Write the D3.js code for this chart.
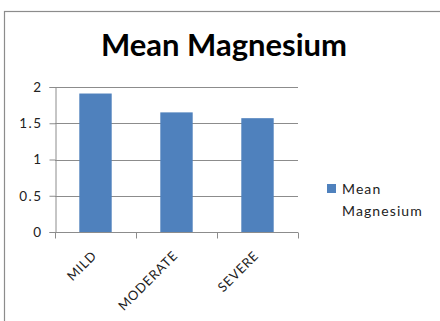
<!DOCTYPE html>
<html>
<head>
<meta charset="utf-8">
<script src="https://cdn.jsdelivr.net/npm/d3@7"></script>
<style>
  html, body { margin: 0; padding: 0; background: #fff; }
  svg { display: block; }
  text { font-family: Lato, "Open Sans", sans-serif; }
</style>
</head>
<body>
<script>
// Mean magnesium by severity group
const categories = ["MILD", "MODERATE", "SEVERE"];
const meanMagnesium = [1.91, 1.65, 1.57];
const yTicks = [0, 0.5, 1, 1.5, 2];
const seriesName = "Mean Magnesium";
const chartTitle = "Mean Magnesium";

const W = 440, H = 321;
const margin = { left: 55, right: 142, top: 87, bottom: 89 };
const color = "#4F81BD";
const axisColor = "#8c8c8c";
const labelColor = "#222";

const svg = d3.select("body").append("svg")
  .attr("width", W).attr("height", H);

// chart frame (only left and top edges fall inside the view)
svg.append("rect")
  .attr("x", 4.5).attr("y", 11.5)
  .attr("width", W + 20).attr("height", H + 20)
  .attr("fill", "#fff").attr("stroke", axisColor).attr("stroke-width", 1.2);

const x = d3.scaleBand()
  .domain(categories)
  .range([margin.left, W - margin.right])
  .paddingInner(0.6).paddingOuter(0.3);

const xOuter = d3.scaleBand()
  .domain(categories)
  .range([margin.left, W - margin.right]);

const y = d3.scaleLinear()
  .domain([0, 2])
  .range([H - margin.bottom, margin.top]);

// title
svg.append("text")
  .attr("x", 224).attr("y", 56)
  .attr("text-anchor", "middle")
  .attr("font-size", 31).attr("font-weight", "bold")
  .attr("fill", "#000")
  .text(chartTitle);

// horizontal gridlines
svg.append("g")
  .selectAll("line")
  .data(yTicks.filter(d => d > 0))
  .join("line")
  .attr("x1", margin.left).attr("x2", W - margin.right)
  .attr("y1", d => Math.round(y(d)) + 0.5).attr("y2", d => Math.round(y(d)) + 0.5)
  .attr("stroke", axisColor);

// bars
svg.append("g")
  .selectAll("rect")
  .data(categories.map((c, i) => ({ c, v: meanMagnesium[i] })))
  .join("rect")
  .attr("x", d => x(d.c))
  .attr("width", x.bandwidth())
  .attr("y", d => y(d.v))
  .attr("height", d => y(0) - y(d.v))
  .attr("fill", color);

// y axis
const yAxis = svg.append("g")
  .attr("transform", `translate(${margin.left + 0.5},0)`)
  .call(d3.axisLeft(y).tickValues(yTicks).tickFormat(d3.format("~g")).tickSize(6).tickPadding(7));
yAxis.select(".domain").attr("stroke", axisColor);
yAxis.selectAll(".tick line").attr("stroke", axisColor);
yAxis.selectAll(".tick text")
  .attr("font-size", 13.5).attr("fill", labelColor)
  .attr("letter-spacing", 1.5)
  .attr("font-family", "Lato, sans-serif");

// x axis with ticks on category boundaries
const xAxisG = svg.append("g")
  .attr("transform", `translate(0,${Math.round(y(0)) + 0.5})`);
xAxisG.append("line")
  .attr("x1", margin.left).attr("x2", W - margin.right)
  .attr("stroke", axisColor);
const bounds = categories.map(c => xOuter(c)).concat([W - margin.right]);
xAxisG.selectAll("line.tick")
  .data(bounds)
  .join("line")
  .attr("class", "tick")
  .attr("x1", d => Math.round(d) + 0.5).attr("x2", d => Math.round(d) + 0.5)
  .attr("y1", 0).attr("y2", 6)
  .attr("stroke", axisColor);
xAxisG.selectAll("text")
  .data(categories)
  .join("text")
  .attr("transform", d => `translate(${xOuter(d) + xOuter.bandwidth() / 2 + 2},${24}) rotate(-45)`)
  .attr("text-anchor", "end")
  .attr("font-size", 13)
  .attr("letter-spacing", 0.8)
  .attr("fill", labelColor)
  .text(d => d);

// legend
const lg = svg.append("g");
lg.append("rect")
  .attr("x", 327).attr("y", 184).attr("width", 9).attr("height", 9)
  .attr("fill", color);
lg.append("text")
  .attr("x", 342).attr("y", 194)
  .attr("font-size", 14).attr("fill", labelColor)
  .attr("letter-spacing", 1.1)
  .selectAll("tspan")
  .data(seriesName.split(" "))
  .join("tspan")
  .attr("x", 342)
  .attr("dy", (d, i) => i === 0 ? 0 : 22)
  .text(d => d);
</script>
</body>
</html>
